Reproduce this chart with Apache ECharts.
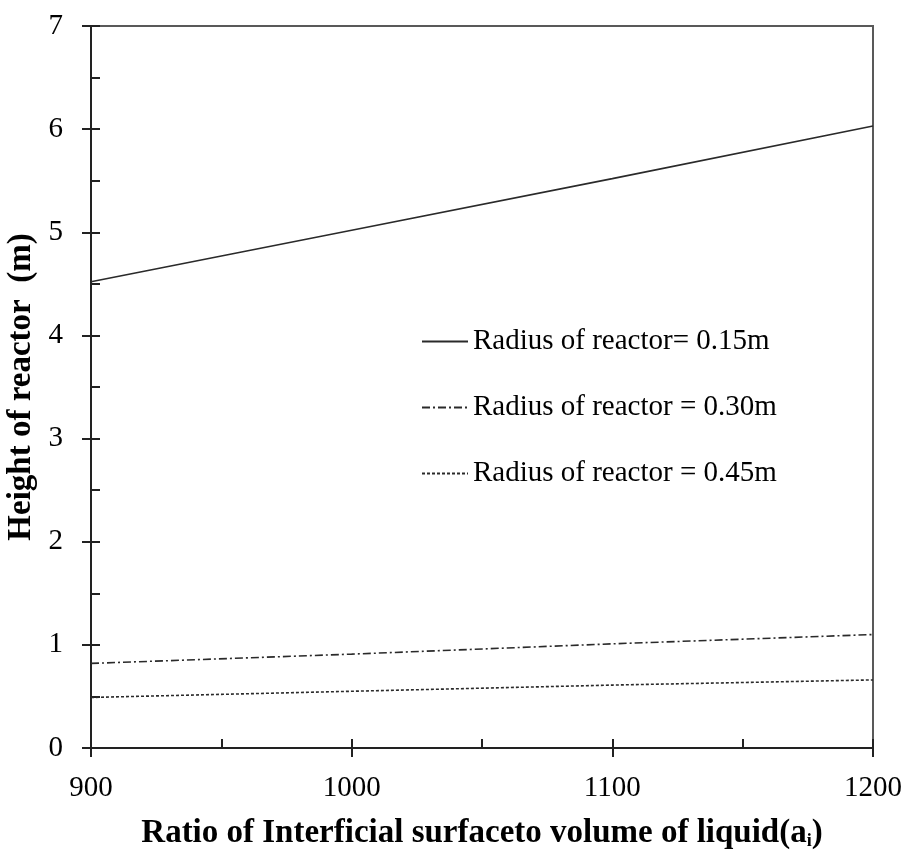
<!DOCTYPE html>
<html>
<head>
<meta charset="utf-8">
<script src="https://cdn.jsdelivr.net/npm/echarts@6/dist/echarts.min.js"></script>
<style>html,body{margin:0;padding:0;background:#fff}#c{width:912px;height:852px}</style>
</head>
<body>
<div id="c"></div>
<script>
const xValues = [900, 1000, 1100, 1200];
const h015 = [4.52, 5.02, 5.52, 6.03];
const h030 = [0.82, 0.91, 1.01, 1.10];
const h045 = [0.49, 0.55, 0.61, 0.66];
const seriesNames = ['Radius of reactor= 0.15m', 'Radius of reactor = 0.30m', 'Radius of reactor = 0.45m'];

const font = 'Liberation Serif';
const chart = echarts.init(document.getElementById('c'));
function pairs(ys){ return xValues.map((x,i)=>[x, ys[i]]); }
const axisCol = '#222';
function mk(name, ys, type, w){
  return {name, type:'line', data:pairs(ys), symbol:'none', showSymbol:false,
    lineStyle:{color:'#2a2a2a', width:w, type:type}, itemStyle:{color:'#2a2a2a'}, silent:true};
}
chart.setOption({
  animation:false,
  grid:{left:91, right:39, top:26, bottom:104, containLabel:false, outerBoundsMode:'none',
    show:true, borderColor:'#595959', borderWidth:2, backgroundColor:'transparent'},
  legend:{
    orient:'vertical', left:416, top:322, itemGap:37, itemWidth:46, itemHeight:14,
    itemStyle:{opacity:0},
    textStyle:{fontFamily:font, fontSize:29, color:'#000'},
    data:seriesNames
  },
  xAxis:[{
    type:'value', min:900, max:1200, interval:100,
    name:'Ratio of Interficial surfaceto volume of liquid(a{s|i})',
    nameLocation:'middle', nameGap:69,
    nameTextStyle:{fontFamily:font, fontSize:33, fontWeight:'bold', color:'#000',
      rich:{s:{fontFamily:font, fontSize:18, fontWeight:'bold', color:'#000', verticalAlign:'bottom', padding:[14,0,0,0]}}},
    axisLine:{show:true, lineStyle:{color:axisCol, width:2}},
    axisTick:{show:true, inside:true, length:9, lineStyle:{color:axisCol, width:2}},
    minorTick:{show:true, splitNumber:2, length:9, lineStyle:{color:axisCol, width:2}},
    axisLabel:{fontFamily:font, fontSize:29, color:'#000', margin:26, formatter:v=>String(v)},
    splitLine:{show:false}
  },{
    type:'value', min:900, max:1200, interval:100, position:'bottom',
    axisLine:{show:false}, axisTick:{show:true, inside:false, length:9, lineStyle:{color:axisCol, width:2}},
    axisLabel:{show:false}, splitLine:{show:false}
  }],
  yAxis:[{
    type:'value', min:0, max:7, interval:1,
    name:'Height of reactor  (m)',
    nameLocation:'middle', nameGap:44,
    nameTextStyle:{fontFamily:font, fontSize:33, fontWeight:'bold', color:'#000'},
    axisLine:{show:true, lineStyle:{color:axisCol, width:2}},
    axisTick:{show:true, inside:true, length:9, lineStyle:{color:axisCol, width:2}},
    minorTick:{show:true, splitNumber:2, length:9, lineStyle:{color:axisCol, width:2}},
    axisLabel:{fontFamily:font, fontSize:29, color:'#000', margin:28},
    splitLine:{show:false}
  },{
    type:'value', min:0, max:7, interval:1, position:'left',
    axisLine:{show:false}, axisTick:{show:true, inside:false, length:9, lineStyle:{color:axisCol, width:2}},
    axisLabel:{show:false}, splitLine:{show:false}
  }],
  series:[
    mk(seriesNames[0], h015, 'solid', 1.6),
    mk(seriesNames[1], h030, [8,3,2,3], 1.6),
    mk(seriesNames[2], h045, [3,2], 1.6)
  ]
});
</script>
</body>
</html>
